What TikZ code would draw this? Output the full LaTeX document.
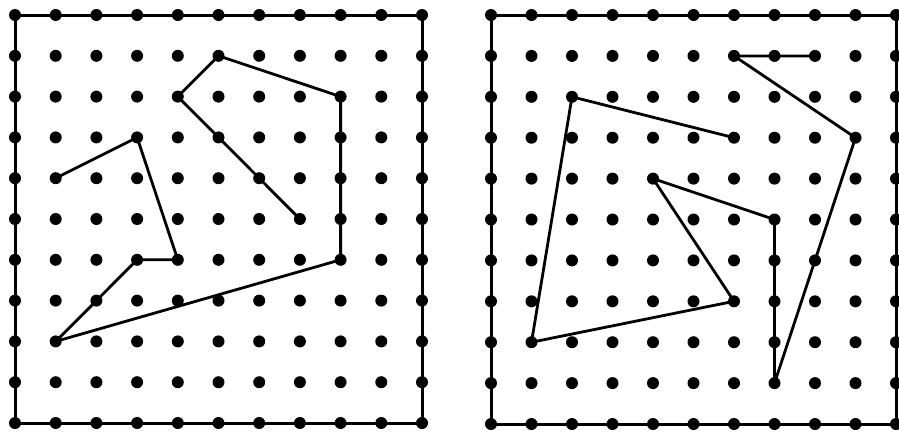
\documentclass[tikz,border=0pt]{standalone}
\begin{document}
\begin{tikzpicture}[x=1pt,y=-1pt,
  dot/.style={circle,fill=black,inner sep=0pt,minimum size=12pt},
  seg/.style={line width=2.8pt,line join=round,line cap=round},
  frame/.style={line width=3pt,line join=round}]
\useasboundingbox (0,0) rectangle (899,432);
\foreach \i in {0,...,10}{\foreach \j in {0,...,10}{
  \node[dot] (L-\i-\j) at ({15+40.7*\i},{15+40.8*\j}) {};
  \node[dot] (R-\i-\j) at ({491+40.5*\i},{15+40.9*\j}) {};
}}
% frames
\draw[frame] (L-0-0.center) rectangle (L-10-10.center);
\draw[frame] (R-0-0.center) rectangle (R-10-10.center);
% left figure
\draw[seg] (L-1-4.center) -- (L-3-3.center) -- (L-4-6.center) -- (L-3-6.center)
  -- (L-1-8.center) -- (L-8-6.center) -- (L-8-2.center) -- (L-5-1.center)
  -- (L-4-2.center) -- (L-7-5.center);
% right figure
\draw[seg] (R-8-1.center) -- (R-6-1.center) -- (R-9-3.center) -- (R-7-9.center)
  -- (R-7-5.center) -- (R-4-4.center) -- (R-6-7.center) -- (R-1-8.center)
  -- (R-2-2.center) -- (R-6-3.center);
\end{tikzpicture}
\end{document}
